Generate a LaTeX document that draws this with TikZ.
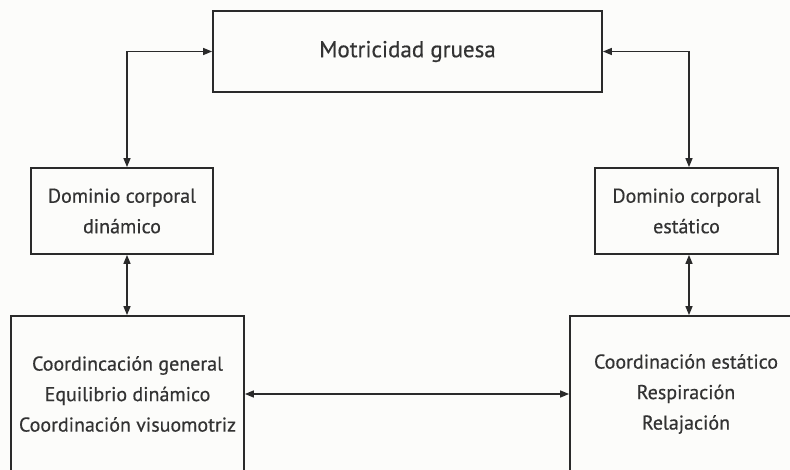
\documentclass[tikz,border=0pt]{standalone}
\usepackage{fontspec}
\setmainfont{PT Sans}[FakeBold=0.5]
\usetikzlibrary{arrows.meta}
\definecolor{ink}{HTML}{2A2A2A}
\definecolor{txt}{HTML}{333333}
\definecolor{bg}{HTML}{FCFCFA}
\begin{document}
\begin{tikzpicture}[x=1pt,y=-1pt,
  box/.style={draw=ink, line width=1.8pt, rectangle, inner sep=0pt, align=center, text=txt, font=\fontsize{20}{30.5}\selectfont},
  link/.style={draw=ink, line width=1.5pt, {Triangle[length=9pt,width=7pt]}-{Triangle[length=9pt,width=7pt]}}]
\useasboundingbox (0,0) rectangle (790,470);
\fill[bg] (0,0) rectangle (790,470);
\clip (0,0) rectangle (790,470);
\node[box, minimum width=389pt, minimum height=81pt, font=\fontsize{23}{28}\selectfont] (top) at (407.5,51.5) {Motricidad gruesa};
\node[box, minimum width=182pt, minimum height=86pt] (lm) at (122,211) {Dominio corporal\\dinámico};
\node[box, minimum width=183pt, minimum height=86pt] (rm) at (686.5,211) {Dominio corporal\\estático};
\node[box, minimum width=233pt, minimum height=156pt] (lb) at (127.5,394) {Coordincación general\\Equilibrio dinámico\\Coordinación visuomotriz};
\node[box, minimum width=232pt, minimum height=156pt] (rb) at (686,394) {Coordinación estático\\Respiración\\Relajación};
\coordinate (tl) at (127,0);
\coordinate (tr) at (689,0);
\draw[link] (lm.north -| tl) |- (top.west);
\draw[link] (top.east) -| (rm.north -| tr);
\draw[link] (lm.south -| tl) -- (lb.north -| tl);
\draw[link] (rm.south -| tr) -- (rb.north -| tr);
\draw[link] (lb.east) -- (rb.west);
\end{tikzpicture}
\end{document}
